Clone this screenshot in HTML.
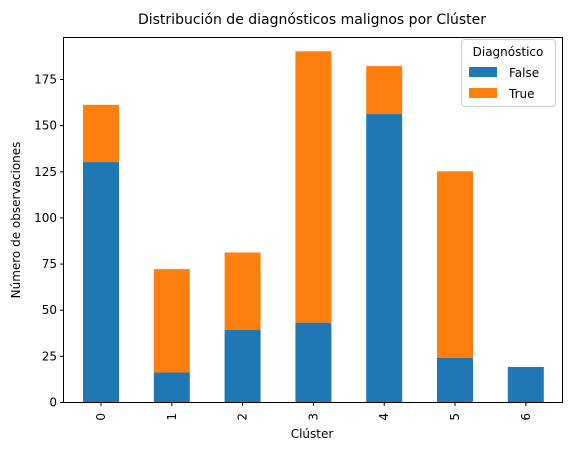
<!DOCTYPE html>
<html><head><meta charset="utf-8"><style>
body{margin:0;background:#fff;font-family:"Liberation Sans","DejaVu Sans",sans-serif;}
text{font-family:"DejaVu Sans","Liberation Sans",sans-serif;}
</style></head><body>
<svg id="chart" width="571" height="450" xmlns="http://www.w3.org/2000/svg">
<text x="312" y="24" text-anchor="middle" font-size="14" fill="#000">Distribución de diagnósticos malignos por Clúster</text>
<g id="plot"></g>
<rect x="63.5" y="37.5" width="499" height="365" fill="none" stroke="#000" stroke-width="1"/>
<text x="312" y="438" text-anchor="middle" font-size="12">Clúster</text>
<text transform="translate(20,220) rotate(-90)" text-anchor="middle" font-size="12">Número de observaciones</text>
<g>
<rect x="461.5" y="39.5" width="94" height="67" rx="3" fill="#fff" stroke="#ccc"/>
<text x="508" y="56" text-anchor="middle" font-size="12">Diagnóstico</text>
<rect x="469" y="67" width="28" height="10" fill="#1f77b4"/>
<text x="509" y="77" font-size="12">False</text>
<rect x="469" y="88" width="28" height="10" fill="#ff7f0e"/>
<text x="509" y="98" font-size="12">True</text>
</g>
</svg>
<script>
const categories=["0","1","2","3","4","5","6"];
const falseVals=[130,16,39,43,156,24,19];
const trueVals=[31,56,42,147,26,101,0];
const yTicks=[0,25,50,75,100,125,150,175];
const NS="http://www.w3.org/2000/svg";
const g=document.getElementById("plot");
const y0=402,yScale=(402-79)/175;
function y(v){return y0-v*yScale;}
function x(i){return 101+i*70.8;}
const bw=36;
function mk(tag,attrs){const e=document.createElementNS(NS,tag);for(const k in attrs)e.setAttribute(k,attrs[k]);g.appendChild(e);return e;}
categories.forEach((c,i)=>{
  let r=mk("rect",{x:x(i)-bw/2,y:y(falseVals[i]),width:bw,height:falseVals[i]*yScale,fill:"#1f77b4"});
  
  
  let r2=mk("rect",{x:x(i)-bw/2,y:y(falseVals[i]+trueVals[i]),width:bw,height:trueVals[i]*yScale,fill:"#ff7f0e"});
  
  
  let t=mk("line",{x1:x(i),x2:x(i),y1:402.5,y2:406,stroke:"#000"});
  
  
  let l=mk("text",{transform:`translate(${x(i)+4},${413}) rotate(-90)`,"text-anchor":"end","font-size":"12"});
  l.textContent=c;
  
  
});
yTicks.forEach(v=>{
  let t=mk("line",{x1:60,x2:63.5,y1:y(v)+0.5,y2:y(v)+0.5,stroke:"#000"});
  
  
  let l=mk("text",{x:57,y:y(v)+4.5,"text-anchor":"end","font-size":"12"});
  l.textContent=v;
  
  
});
</script>
</body></html>
